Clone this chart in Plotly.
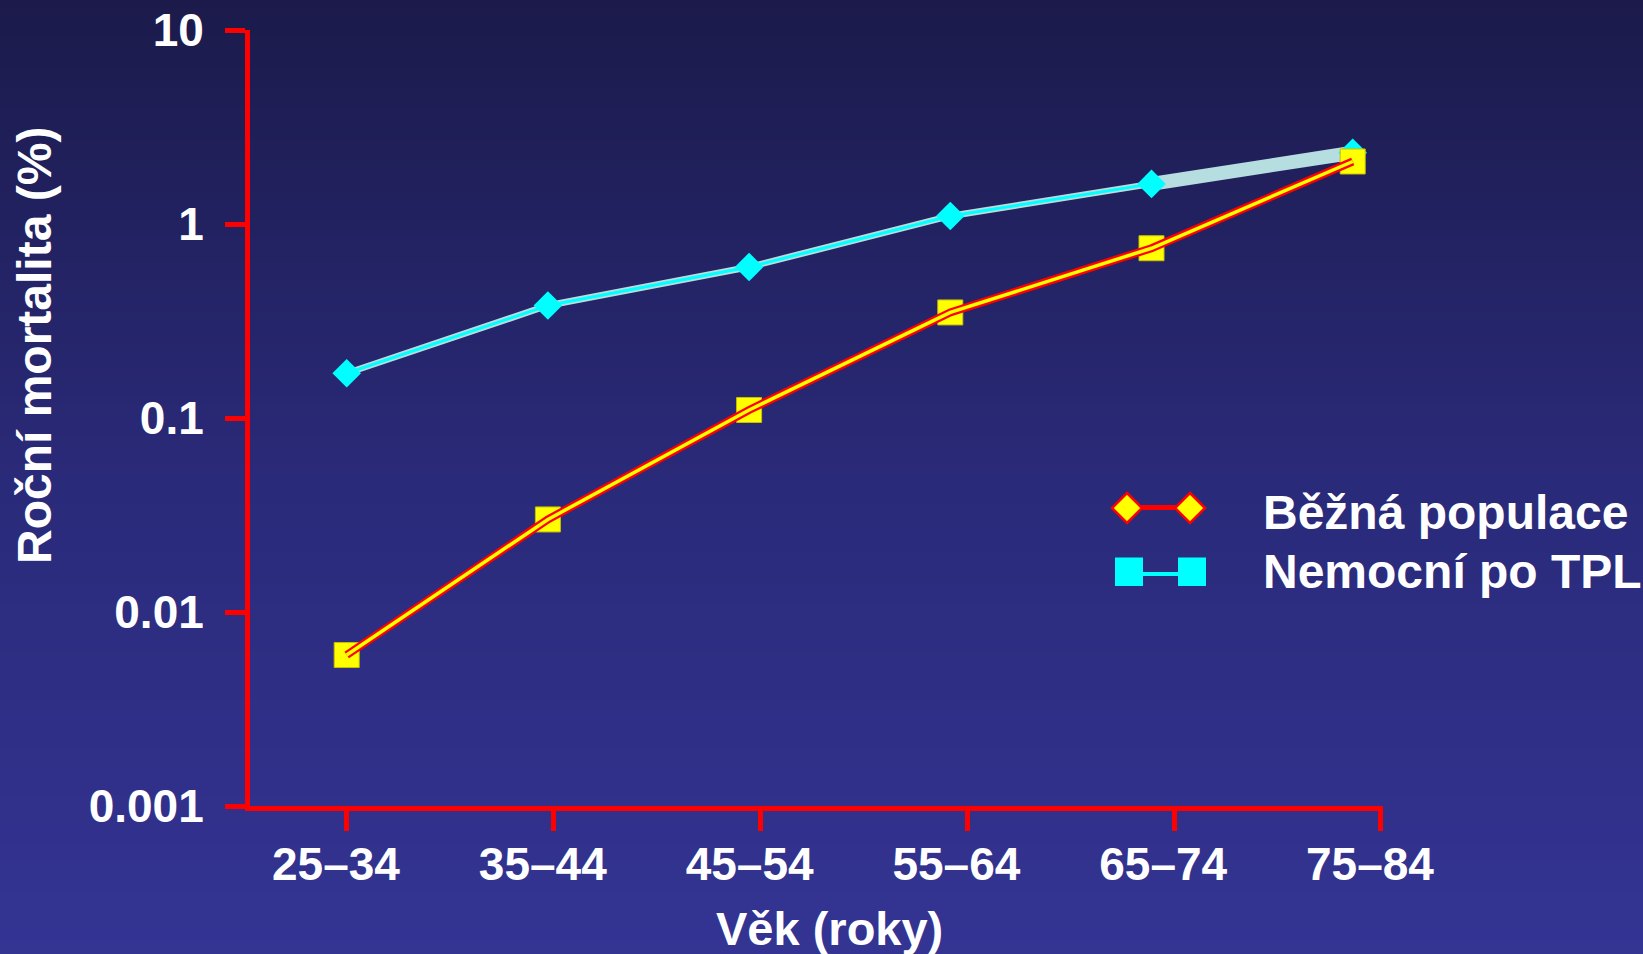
import base64, struct, zlib
import plotly.graph_objects as go

# ---------------- data ----------------
categories = ["25–34", "35–44", "45–54", "55–64", "65–74", "75–84"]
bezna_populace = [0.006, 0.03, 0.11, 0.35, 0.75, 2.1]
nemocni_po_tpl = [0.17, 0.38, 0.6, 1.1, 1.61, 2.33]
y_tick_vals = [0.001, 0.01, 0.1, 1, 10]
y_tick_text = ["0.001", "0.01", "0.1", "1", "10"]
legend_names = ["Běžná populace", "Nemocní po TPL"]

# ---------------- layout geometry ----------------
W, H = 1643, 954
L, R, T, B = 250, 260, 30, 148
PW, PH = W - L - R, H - T - B

def px(x, y):
    return (x - L) / PW, (H - B - y) / PH

FONT = "Liberation Sans, Arial, sans-serif"
RED = "#ff0000"
YEL = "#ffff00"
CYAN = "#00ffff"
PALE = "#b6dde0"

# ---------------- gradient background as PNG ----------------
def gradient_png(h):
    stops = [(0, (27, 26, 74)), (480, (42, 42, 122)), (h - 1, (52, 52, 148))]
    rows = b""
    for yy in range(h):
        for i in range(len(stops) - 1):
            y0, c0 = stops[i]
            y1, c1 = stops[i + 1]
            if y0 <= yy <= y1:
                t = (yy - y0) / (y1 - y0)
                c = tuple(int(round(c0[k] + (c1[k] - c0[k]) * t)) for k in range(3))
                break
        rows += b"\x00" + bytes(c) * 4
    def chunk(tag, data):
        return struct.pack(">I", len(data)) + tag + data + struct.pack(">I", zlib.crc32(tag + data) & 0xffffffff)
    png = b"\x89PNG\r\n\x1a\n" + chunk(b"IHDR", struct.pack(">IIBBBBB", 4, h, 8, 2, 0, 0, 0)) \
        + chunk(b"IDAT", zlib.compress(rows)) + chunk(b"IEND", b"")
    return "data:image/png;base64," + base64.b64encode(png).decode()

fig = go.Figure()

# invisible anchor trace so the tick axis (x) is drawn
fig.add_trace(go.Scatter(x=list(range(len(categories))), y=bezna_populace, mode="markers",
                         marker=dict(opacity=0), showlegend=False, hoverinfo="skip"))

# cyan series: pale underlay, cyan line, thick last segment
fig.add_trace(go.Scatter(x=categories[:-1], y=nemocni_po_tpl[:-1], mode="lines", xaxis="x2",
                         line=dict(color=PALE, width=6.5), showlegend=False, hoverinfo="skip"))
fig.add_trace(go.Scatter(x=categories[:-1], y=nemocni_po_tpl[:-1], mode="lines", xaxis="x2",
                         line=dict(color=CYAN, width=3), showlegend=False, hoverinfo="skip"))
fig.add_trace(go.Scatter(x=categories[-2:], y=nemocni_po_tpl[-2:], mode="lines", xaxis="x2",
                         line=dict(color=PALE, width=14), showlegend=False, hoverinfo="skip"))
fig.add_trace(go.Scatter(x=categories, y=nemocni_po_tpl, mode="markers", xaxis="x2", name=legend_names[1],
                         marker=dict(symbol="diamond", size=22, color=CYAN, line=dict(width=0)),
                         showlegend=False))
# red/yellow series
fig.add_trace(go.Scatter(x=categories, y=bezna_populace, mode="markers", xaxis="x2", name=legend_names[0],
                         marker=dict(symbol="square", size=25, color=YEL, line=dict(width=1, color="#c8c000")),
                         showlegend=False))
fig.add_trace(go.Scatter(x=categories, y=bezna_populace, mode="lines", xaxis="x2",
                         line=dict(color=RED, width=8), showlegend=False, hoverinfo="skip"))
fig.add_trace(go.Scatter(x=categories, y=bezna_populace, mode="lines", xaxis="x2",
                         line=dict(color=YEL, width=3.5), showlegend=False, hoverinfo="skip"))

# ---------------- legend (drawn) ----------------
shapes = []
annotations = []
def diamond(cx, cy, r):
    pts = [px(cx, cy - r), px(cx + r, cy), px(cx, cy + r), px(cx - r, cy)]
    return "M " + " L ".join(f"{a:.5f},{b:.5f}" for a, b in pts) + " Z"

x0, y0 = px(1127, 507.5); x1, _ = px(1190, 507.5)
shapes.append(dict(type="line", xref="paper", yref="paper", x0=x0, y0=y0, x1=x1, y1=y0,
                   line=dict(color=RED, width=5)))
for cx in (1127, 1190):
    shapes.append(dict(type="path", xref="paper", yref="paper", path=diamond(cx, 508, 15),
                       fillcolor=YEL, line=dict(color=RED, width=2.5)))
x0, y0 = px(1129, 574); x1, _ = px(1192, 574)
shapes.append(dict(type="line", xref="paper", yref="paper", x0=x0, y0=y0, x1=x1, y1=y0,
                   line=dict(color=CYAN, width=4)))
for cx in (1129, 1192):
    a, b = px(cx - 14, 557.5); c, d = px(cx + 14, 586)
    shapes.append(dict(type="rect", xref="paper", yref="paper", x0=a, y0=b, x1=c, y1=d,
                       fillcolor=CYAN, line=dict(width=0)))

for name, ty in zip(legend_names, (512, 571)):
    ax_, ay_ = px(1261, ty)
    annotations.append(dict(text=name, xref="paper", yref="paper", x=ax_, y=ay_, xanchor="left",
                            yanchor="middle", showarrow=False,
                            font=dict(family=FONT, size=48, color="white", weight="bold")))

# axis titles
tx, ty = px(829, 929)
annotations.append(dict(text="Věk (roky)", xref="paper", yref="paper", x=tx, y=ty, xanchor="center",
                        yanchor="middle", showarrow=False,
                        font=dict(family=FONT, size=47, color="white", weight="bold")))
tx, ty = px(34, 346)
annotations.append(dict(text="Roční mortalita (%)", xref="paper", yref="paper", x=tx, y=ty, xanchor="center",
                        yanchor="middle", showarrow=False, textangle=-90,
                        font=dict(family=FONT, size=48, color="white", weight="bold")))

bx0, by1 = px(-5, -10); bx1, by0 = px(W + 5, H + 10)
fig.update_layout(
    width=W, height=H,
    margin=dict(l=L, r=R, t=T, b=B, autoexpand=False),
    paper_bgcolor="#1b1a4a",
    plot_bgcolor="rgba(0,0,0,0)",
    images=[dict(source=gradient_png(H), xref="paper", yref="paper", x=bx0, y=by1,
                 sizex=bx1 - bx0, sizey=by1 - by0, sizing="stretch", layer="below",
                 xanchor="left", yanchor="top")],
    xaxis=dict(type="linear", range=[-0.469, 5.0097], tickmode="array",
               tickvals=list(range(len(categories))), ticktext=categories,
               showgrid=False, zeroline=False, showline=True, linecolor=RED, linewidth=5,
               ticks="outside", ticklen=20, tickwidth=5, tickcolor=RED, automargin=False,
               ticklabelstandoff=-6, ticklabelshift=-11,
               tickfont=dict(family=FONT, size=46, color="white", weight="bold")),
    xaxis2=dict(type="category", categoryorder="array", categoryarray=categories, overlaying="x",
                anchor="y", visible=False, range=[-0.4806, 5.1506]),
    yaxis=dict(type="log", range=[-3, 1], tickmode="array", tickvals=y_tick_vals, ticktext=y_tick_text,
               showgrid=False, zeroline=False, showline=True, linecolor=RED, linewidth=5,
               ticks="outside", ticklen=20, tickwidth=5, tickcolor=RED, ticklabelstandoff=12,
               automargin=False,
               tickfont=dict(family=FONT, size=46, color="white", weight="bold")),
    shapes=shapes,
    annotations=annotations,
    showlegend=False,
)
for tr in fig.data:
    tr.cliponaxis = False

fig.write_html("out.html", config={"displayModeBar": False})
with open("out.html", encoding="utf-8") as f:
    html = f.read()
html = html.replace("<body>", '<body style="margin:0;padding:0;overflow:hidden;">', 1)
with open("out.html", "w", encoding="utf-8") as f:
    f.write(html)
